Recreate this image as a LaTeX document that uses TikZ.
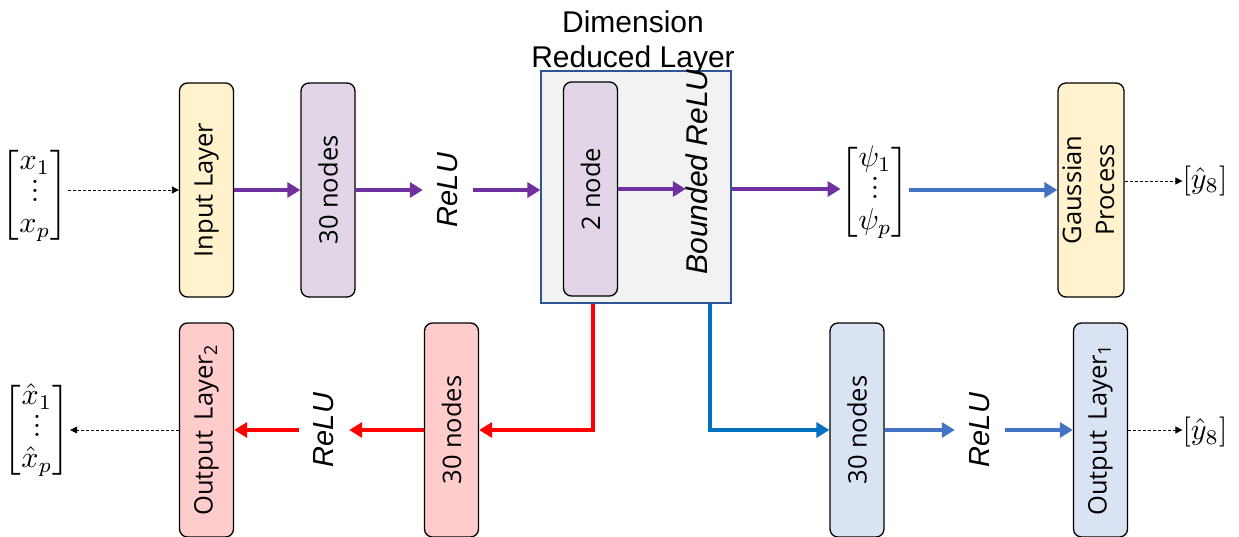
\documentclass[tikz,border=0pt]{standalone}
\usepackage{fontspec}
\usepackage{amsmath}
\setmainfont{Open Sans}
\newfontfamily\arial{Liberation Sans}
\usetikzlibrary{arrows.meta,calc}
\definecolor{cYel}{HTML}{FFF2CC}
\definecolor{cLav}{HTML}{E1D5E7}
\definecolor{cPnk}{HTML}{FFCCCC}
\definecolor{cLbl}{HTML}{DAE3F3}
\definecolor{cGry}{HTML}{F2F2F2}
\definecolor{cDimB}{HTML}{2F5597}
\definecolor{cPur}{HTML}{7030A0}
\definecolor{cRed}{HTML}{FF0000}
\definecolor{cBlu}{HTML}{4472C4}
\definecolor{cDbl}{HTML}{0070C0}
\newcommand{\smalldots}{\vbox{\baselineskip2.9pt\lineskiplimit0pt\hbox{$.$}\hbox{$.$}\hbox{$.$}}}
\newcommand{\vecmat}[3]{\scalebox{#1}{\renewcommand{\arraystretch}{0.875}$\left[\begin{matrix}#2\\ \smalldots\\ #3\end{matrix}\right]$}}
\tikzset{
  layer/.style={draw=black, line width=1.3pt, rounded corners=8pt, minimum width=54pt,
    minimum height=214pt, inner sep=0pt, font=\fontsize{25.5}{33}\selectfont},
  ylw/.style={layer, fill=cYel},
  lav/.style={layer, fill=cLav},
  pnk/.style={layer, fill=cPnk},
  lbl/.style={layer, fill=cLbl},
  act/.style={inner sep=0pt, minimum width=50pt, font=\arial\itshape\fontsize{29}{32}\selectfont},
  vec/.style={inner sep=0pt},
  flow/.style={line width=4pt, -{Triangle[length=13pt,width=15pt]}},
  dots/.style={densely dashed, line width=0.8pt, -{Triangle[length=7pt,width=7pt]}},
}
\begin{document}
\begin{tikzpicture}[x=1pt,y=-1pt]
\useasboundingbox (0,0) rectangle (1239,537);
% upper row
\node[vec] (xin) at (35,195) {\vecmat{3}{x_1}{x_p}};
\node[ylw] (inl) at (206.5,190) {\rotatebox{90}{Input Layer}};
\node[lav] (h1) at (328,190) {\rotatebox{90}{30 nodes}};
\node[act] (r1) at (448,190) {\rotatebox{90}{ReLU}};
\node[draw=cDimB, line width=1.2pt, fill=cGry, minimum width=190pt, minimum height=232pt, inner sep=0pt] (dim) at (636,187) {};
\node[lav] (h2) at (590.5,189) {\rotatebox{90}{2 node}};
\node[inner sep=0pt, font=\arial\itshape\fontsize{30}{32}\selectfont] (br) at (697,172) {\rotatebox{90}{Bounded ReLU}};
\node[inner sep=0pt, font=\arial\fontsize{30}{35}\selectfont] (dimlab) at (633,43.5) {\begin{tabular}{c}Dimension\\Reduced Layer\end{tabular}};
\node[vec] (psi) at (875,192) {\vecmat{3}{\psi_1}{\psi_p}};
\node[ylw] (gp) at (1091,190) {\rotatebox{90}{\begin{tabular}{c}Gaussian\\Process\end{tabular}}};
\node[vec] (y1) at (1205,181) {\scalebox{3}{$[\hat{y}_8]$}};
% lower row
\node[vec] (xout) at (37,430) {\vecmat{3}{\hat{x}_1}{\hat{x}_p}};
\node[pnk] (o2) at (206.5,430) {\rotatebox{90}{Output \,Layer\textsubscript{2}}};
\node[act] (r2) at (324,430) {\rotatebox{90}{ReLU}};
\node[pnk] (h3) at (451.5,430) {\rotatebox{90}{30 nodes}};
\node[lbl] (h4) at (857,430) {\rotatebox{90}{30 nodes}};
\node[act] (r3) at (980,430) {\rotatebox{90}{ReLU}};
\node[lbl] (o1) at (1100.5,430) {\rotatebox{90}{Output \,Layer\textsubscript{1}}};
\node[vec] (y2) at (1205,432) {\scalebox{3}{$[\hat{y}_8]$}};
% connectors upper
\draw[dots] (xin.east |- inl.west) -- (inl.west);
\draw[flow,cPur] (inl) -- (h1);
\draw[flow,cPur] (h1) -- (r1);
\draw[flow,cPur] (r1) -- (r1 -| dim.west);
\draw[flow,cPur] (h2) -- (h2 -| br.west);
\draw[flow,cPur] (dim.east |- h2) -- (h2 -| psi.west);
\draw[flow,cBlu] (psi.east |- gp) -- (gp);
\draw[dots] (gp.east |- y1) -- (y1);
% connectors lower
\draw[flow,cRed] ([xshift=-43pt]dim.south) |- (h3);
\draw[flow,cRed] (h3) -- (r2);
\draw[flow,cRed] (r2) -- (o2);
\draw[dots] (o2.west) -- (o2.west -| xout.east);
\draw[flow,cDbl] ([xshift=74pt]dim.south) |- (h4);
\draw[flow,cBlu] (h4) -- (r3);
\draw[flow,cBlu] (r3) -- (o1);
\draw[dots] (o1) -- (o1 -| y2.west);
\end{tikzpicture}
\end{document}
